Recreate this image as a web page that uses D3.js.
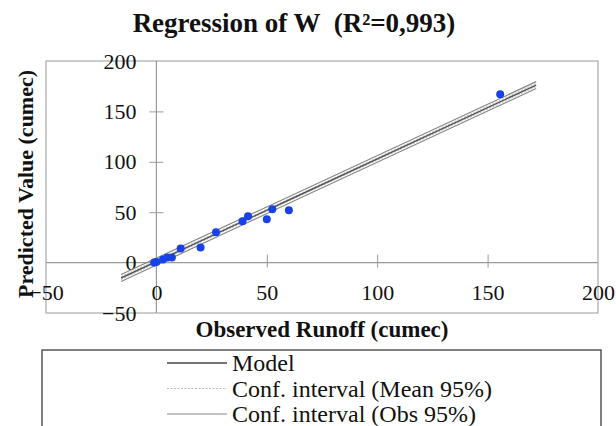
<!DOCTYPE html>
<html>
<head>
<meta charset="utf-8">
<script src="https://cdn.jsdelivr.net/npm/d3@7"></script>
<style>
  body { margin: 0; background: #fff; }
  svg { display: block; }
  text { font-family: "Liberation Serif", "Times New Roman", serif; fill: #111; }
</style>
</head>
<body>
<svg id="chart" width="616" height="426"></svg>
<script>
// observed vs predicted runoff (cumec)
const observed  = [-1, 0, 3, 5, 7, 11, 20, 27, 39, 41.5, 50, 52.5, 60, 155.7];
const predicted = [0, 0.5, 3, 5, 5, 14, 15, 30, 41, 46, 43, 53, 52, 167];

// model line and the two 95% bands, sampled at a few x values
const lineX   = [-16, 60, 172];
const modelY  = [-15.3, 62.1, 176.1];
const meanLo  = [-16.8, 61.2, 174.5];
const meanHi  = [-13.8, 63.0, 177.7];
const obsLo   = [-18.8, 58.8, 172.7];
const obsHi   = [-11.8, 65.4, 179.5];

const xTicks = [-50, 0, 50, 100, 150, 200];
const yTicks = [-50, 0, 50, 100, 150, 200];

const legendItems = [
    { label: 'Model', stroke: '#444', width: 1.6, dash: null },
    { label: 'Conf. interval (Mean 95%)', stroke: '#bbb', width: 1, dash: '2,1.5' },
    { label: 'Conf. interval (Obs 95%)', stroke: '#888', width: 1.2, dash: null },
];

const svg = d3.select('#chart');

const x = d3.scaleLinear().domain([-50, 200]).range([46, 598]);
const y = d3.scaleLinear().domain([-50, 200]).range([313, 61]);

// frame
svg.append('rect')
    .attr('x', x(-50)).attr('y', y(200))
    .attr('width', x(200) - x(-50)).attr('height', y(-50) - y(200))
    .attr('fill', 'none').attr('stroke', '#aaa').attr('stroke-width', 1.2);

// zero lines
svg.append('line')
    .attr('x1', x(-50)).attr('x2', x(200)).attr('y1', y(0)).attr('y2', y(0))
    .attr('stroke', '#999').attr('stroke-width', 1.2);
svg.append('line')
    .attr('x1', x(0)).attr('x2', x(0)).attr('y1', y(-50)).attr('y2', y(200))
    .attr('stroke', '#999').attr('stroke-width', 1.2);

const xAxis = svg.append('g')
    .attr('transform', `translate(0, ${y(0)})`)
    .call(d3.axisBottom(x).tickValues(xTicks).tickSize(5).tickPadding(17));
xAxis.select('.domain').remove();
xAxis.selectAll('.tick line').attr('y1', -8).attr('stroke', '#999')
    .attr('opacity', d => (d === 0 || d === -50 || d === 200) ? 0 : 1);

const yAxis = svg.append('g')
    .attr('transform', `translate(${x(0)}, 0)`)
    .call(d3.axisLeft(y).tickValues(yTicks).tickSize(7).tickPadding(13));
yAxis.select('.domain').remove();
yAxis.selectAll('.tick line').attr('x1', 7).attr('stroke', '#999')
    .attr('opacity', d => (d === 0 || d === -50 || d === 200) ? 0 : 1);

svg.selectAll('.tick text')
    .style('font-family', '"Liberation Serif", serif')
    .style('font-size', '22px')
    .attr('fill', '#111');

// bands and model
const band = (ys) => d3.line().x((d, i) => x(lineX[i])).y(d => y(d))(ys);
[obsLo, obsHi].forEach(ys => {
    svg.append('path').attr('d', band(ys))
        .attr('fill', 'none').attr('stroke', '#888').attr('stroke-width', 1.2);
});
[meanLo, meanHi].forEach(ys => {
    svg.append('path').attr('d', band(ys))
        .attr('fill', 'none').attr('stroke', '#bbb').attr('stroke-width', 1)
        .attr('stroke-dasharray', '2,1.5');
});
svg.append('path').attr('d', band(modelY))
    .attr('fill', 'none').attr('stroke', '#555').attr('stroke-width', 1.5);

// points
svg.append('g')
    .selectAll('circle')
    .data(observed)
    .join('circle')
    .attr('cx', d => x(d))
    .attr('cy', (d, i) => y(predicted[i]))
    .attr('r', 4)
    .attr('fill', '#1941e8');

// titles
svg.append('text')
    .attr('x', 294).attr('y', 32)
    .attr('text-anchor', 'middle')
    .attr('font-size', 27).attr('font-weight', 'bold')
    .style('white-space', 'pre')
    .text('Regression of W  (R²=0,993)');

svg.append('text')
    .attr('x', 322).attr('y', 337)
    .attr('text-anchor', 'middle')
    .attr('font-size', 23).attr('font-weight', 'bold')
    .text('Observed Runoff (cumec)');

svg.append('text')
    .attr('transform', 'translate(33, 184) rotate(-90)')
    .attr('text-anchor', 'middle')
    .attr('font-size', 22).attr('font-weight', 'bold')
    .text('Predicted Value (cumec)');

// legend
const legend = svg.append('g');
legend.append('rect')
    .attr('x', 42).attr('y', 350).attr('width', 559).attr('height', 100)
    .attr('fill', 'none').attr('stroke', '#555').attr('stroke-width', 1.5);

const rows = legend.selectAll('g.row')
    .data(legendItems)
    .join('g')
    .attr('class', 'row')
    .attr('transform', (d, i) => `translate(0, ${363 + i * 25.5})`);
rows.append('line')
    .attr('x1', 167).attr('x2', 227)
    .attr('stroke', d => d.stroke)
    .attr('stroke-width', d => d.width)
    .attr('stroke-dasharray', d => d.dash);
rows.append('text')
    .attr('x', 232).attr('y', 8)
    .attr('font-size', 24)
    .text(d => d.label);
</script>
</body>
</html>
